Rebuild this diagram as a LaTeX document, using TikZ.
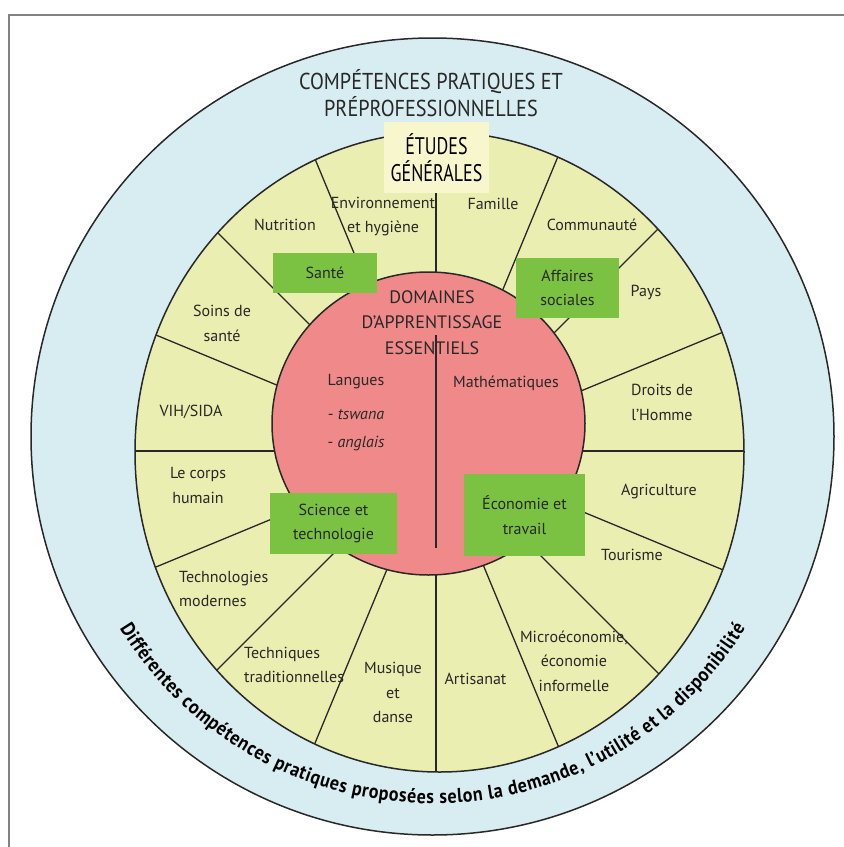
\documentclass[tikz,border=0pt]{standalone}
\usepackage{fontspec}
\setmainfont{PT Sans}
\newfontfamily\titlefont[FakeStretch=0.88]{PT Sans}
\newfontfamily\etudesfont[FakeStretch=0.75]{PT Sans}
\newfontfamily\arcfont[FakeStretch=0.9]{PT Sans}
\usepackage{tikz}
\usetikzlibrary{calc}
\usetikzlibrary{decorations.text}
\usetikzlibrary{positioning}
\definecolor{ringblue}{RGB}{216,237,241}
\definecolor{wheelyellow}{RGB}{234,238,176}
\definecolor{corepink}{RGB}{240,138,138}
\definecolor{boxgreen}{RGB}{124,194,66}
\definecolor{studycream}{RGB}{248,246,204}
\definecolor{inkgray}{RGB}{40,40,40}
\definecolor{framegray}{RGB}{130,130,130}
\tikzset{rim/.style={draw=inkgray,line width=1.5}}
\tikzset{spoke/.style={draw=inkgray,line width=1.3}}
\tikzset{lbl/.style={align=center,text=inkgray,inner sep=0pt,font=\fontsize{16}{24.5}\selectfont}}
\tikzset{lblleft/.style={lbl,align=left,anchor=west}}
\tikzset{greenbox/.style={fill=boxgreen,align=center,text=inkgray,inner sep=0pt,font=\fontsize{16}{24.5}\selectfont}}
\begin{document}
\begin{tikzpicture}[x=1pt,y=-1pt]
\useasboundingbox (0,0) rectangle (844,847);
\coordinate (B) at (432.5,436.5);
\coordinate (Y) at (439.5,452);
\coordinate (P) at (428.5,423.5);
\coordinate (O) at (436,451);
\coordinate (Dtop) at (436,335);
\coordinate (Dbot) at (436,548);

% frame
\draw[framegray,line width=2] (9,847) -- (9,15) -- (844,15);

% rings
\fill[ringblue] (B) ellipse [x radius=401.5,y radius=398.5];
\draw[rim] (B) ellipse [x radius=401.5,y radius=398.5];
\fill[wheelyellow] (Y) ellipse [x radius=304.5,y radius=320];
\begin{scope}
\clip (Y) ellipse [x radius=304.5,y radius=320];
\foreach \a in {0,22.5,...,337.5}
{
	\draw[spoke] (O) -- ++(\a:360);
}
\end{scope}
\draw[rim] (Y) ellipse [x radius=304.5,y radius=320];
\fill[corepink] (P) ellipse [x radius=156.5,y radius=151.5];
\draw[rim] (P) ellipse [x radius=156.5,y radius=151.5];
\draw[spoke] (Dtop) -- (Dbot);

% boxes
\node (etudes) at (436.5,157.5) [fill=studycream,minimum width=105,minimum height=71,inner sep=0pt,align=center,text=black,font=\etudesfont\fontsize{24}{27}\selectfont] {ÉTUDES\\GÉNÉRALES};
\node (sante) at (325,273) [greenbox,minimum width=104,minimum height=40] {Santé};
\node (affaires) at (567.5,288) [greenbox,minimum width=103,minimum height=60] {Affaires\\sociales};
\node (science) at (333.5,523.5) [greenbox,minimum width=127,minimum height=61] {Science et\\technologie};
\node (economie) at (524.5,515) [greenbox,minimum width=121,minimum height=82] {Économie et\\travail};

% titles
\node (titre) at (431,93.5) [align=center,text=inkgray,inner sep=0pt,font=\titlefont\fontsize{23}{27}\selectfont] {COMPÉTENCES PRATIQUES ET\\PRÉPROFESSIONNELLES};
\node (domaines) at (432,322.5) [align=center,text=inkgray,inner sep=0pt,font=\fontsize{18}{25.5}\selectfont] {DOMAINES\\D’APPRENTISSAGE\\ESSENTIELS};
\node (langues) at (356,413) [lbl,font=\fontsize{16}{28}\selectfont] {Langues\\[6pt]- \textit{tswana}\\- \textit{anglais}};
\node (maths) at (506,383) [lbl] {Mathématiques};

% sectors
\node (nutrition) at (285,225) [lbl] {Nutrition};
\node (environ) at (383,216.5) [lbl] {Environnement\\et hygiène};
\node (famille) at (493,204) [lbl] {Famille};
\node (communaute) at (592,225) [lbl] {Communauté};
\node (pays) at (646,292) [lbl] {Pays};
\node (droits) at (662,402.5) [lbl] {Droits de\\l’Homme};
\node (agri) at (659,492) [lbl] {Agriculture};
\node (tourisme) at (632,555) [lbl] {Tourisme};
\node (micro) at (574,661) [lbl] {Microéconomie,\\économie\\informelle};
\node (artisanat) at (475.5,678.5) [lbl] {Artisanat};
\node (musique) at (393,692.5) [lbl] {Musique\\et\\danse};
\node (techniques) at (244,665) [lblleft] {Techniques\\traditionnelles};
\node (technos) at (179,589) [lblleft] {Technologies\\modernes};
\node (corps) at (198,485.5) [lbl] {Le corps\\humain};
\node (vih) at (191,412) [lbl] {VIH/SIDA};
\node (soins) at (222,323.5) [lbl] {Soins de\\santé};

% bottom arc
\path[decorate,decoration={text along path,text align={fit to path},
	text={|\arcfont\bfseries\fontsize{20}{20}\selectfont|Différentes compétences pratiques proposées selon la demande, l’utilité et la disponibilité}}]
	($(B)+(148.5:367)$) arc [start angle=148.5,end angle=31.6,radius=367];
\end{tikzpicture}
\end{document}
